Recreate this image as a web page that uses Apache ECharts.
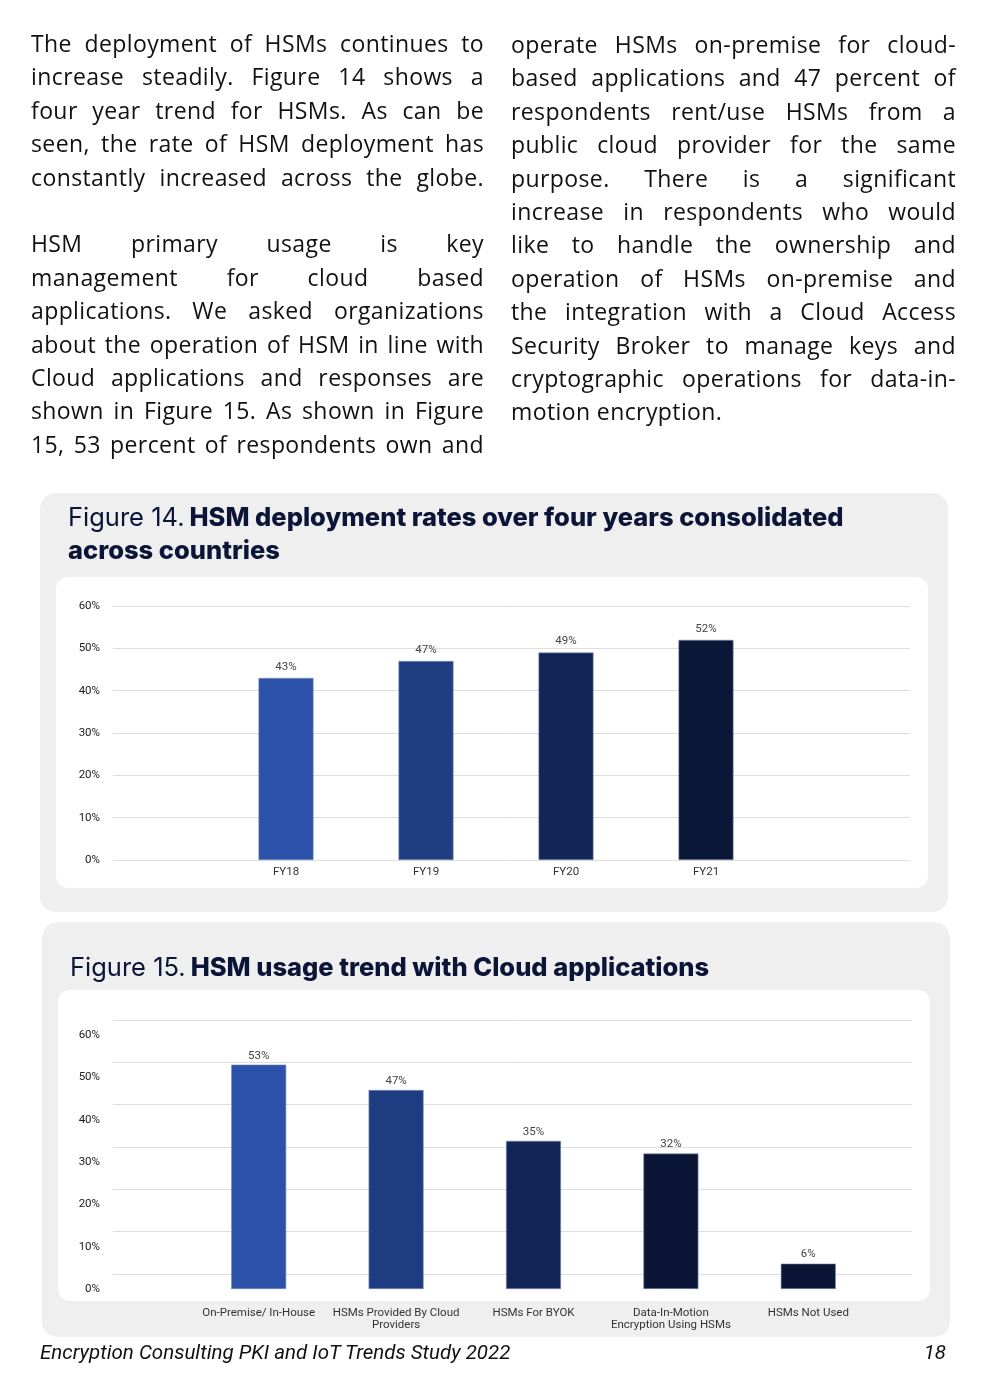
<!DOCTYPE html>
<html>
<head>
<meta charset="utf-8">
<script src="https://cdn.jsdelivr.net/npm/echarts@6/dist/echarts.min.js"></script>
<style>
  html, body { margin: 0; padding: 0; background: #ffffff; }
  #page { position: relative; width: 988px; height: 1398px; overflow: hidden; }
  #chart { position: absolute; left: 0; top: 0; width: 988px; height: 1398px; }
  .col { position: absolute; font-family: "Open Sans", sans-serif; font-size: 23px; letter-spacing: 0.4px; color: #111; }
  .ln { height: 33.4px; line-height: 33.4px; white-space: nowrap; text-align: justify; text-align-last: justify; }
  .ln.last { text-align: left; text-align-last: left; }
  .foot { position: absolute; top: 1340px; font-family: Roboto, sans-serif; font-style: italic; font-size: 20.5px; color: #111; }
</style>
</head>
<body>
<div id="page">
  <div id="chart"></div>
  <div class="col" id="col1" style="left:31px; top:27px; width:453px;"></div>
  <div class="col" id="col2" style="left:511px; top:28px; width:445px;"></div>
  <div class="foot" style="left:40px;">Encryption Consulting PKI and IoT Trends Study 2022</div>
  <div class="foot" style="right:42px;">18</div>
</div>
<script>
// ---- text content (line by line, as laid out on the page) ----
const col1Lines = [
  "The deployment of HSMs continues to",
  "increase steadily. Figure 14 shows a",
  "four year trend for HSMs. As can be",
  "seen, the rate of HSM deployment has",
  "constantly increased across the globe.",
  "",
  "HSM primary usage is key",
  "management for cloud based",
  "applications. We asked organizations",
  "about the operation of HSM in line with",
  "Cloud applications and responses are",
  "shown in Figure 15. As shown in Figure",
  "15, 53 percent of respondents own and"
];
const col2Lines = [
  "operate HSMs on-premise for cloud-",
  "based applications and 47 percent of",
  "respondents rent/use HSMs from a",
  "public cloud provider for the same",
  "purpose. There is a significant",
  "increase in respondents who would",
  "like to handle the ownership and",
  "operation of HSMs on-premise and",
  "the integration with a Cloud Access",
  "Security Broker to manage keys and",
  "cryptographic operations for data-in-",
  "motion encryption."
];

// ---- chart data ----
const fig14Title = "Figure 14.";
const fig14Bold1 = "HSM deployment rates over four years consolidated";
const fig14Bold2 = "across countries";
const fig14Categories = ["FY18", "FY19", "FY20", "FY21"];
const fig14Values = [43, 47, 49, 52];

const fig15Title = "Figure 15.";
const fig15Bold = "HSM usage trend with Cloud applications";
const fig15Categories = ["On-Premise/ In-House", "HSMs Provided By Cloud\nProviders", "HSMs For BYOK", "Data-In-Motion\nEncryption Using HSMs", "HSMs Not Used"];
const fig15Values = [53, 47, 35, 32, 6];

const yTicks = [0, 10, 20, 30, 40, 50, 60];

// ---- build paragraphs ----
function fill(id, lines) {
  const el = document.getElementById(id);
  lines.forEach((t, i) => {
    const d = document.createElement('div');
    d.className = 'ln';
    const next = lines[i + 1];
    if (t === "" || next === undefined && t.length < 25) d.className += ' last';
    d.textContent = t === "" ? "\u00a0" : t;
    el.appendChild(d);
  });
}
fill('col1', col1Lines);
fill('col2', col2Lines);

// ---- chart ----
const barColors14 = ['#2b51a8', '#1f3d82', '#132457', '#0b1737'];
const barColors15 = ['#2b51a8', '#1f3d82', '#132457', '#0b1636', '#0b1636'];
const navy = '#0c1538';
const FONT = 'Roboto, sans-serif';
const TFONT = 'Inter, Roboto, sans-serif';
const yMax = yTicks[yTicks.length - 1];
const yInt = yTicks[1] - yTicks[0];

const chart = echarts.init(document.getElementById('chart'), null, { renderer: 'canvas' });

const richTitle = {
  n: { fontFamily: TFONT, fontSize: 25.5, fontWeight: 'normal', color: navy, lineHeight: 33 },
  b: { fontFamily: TFONT, fontSize: 25.5, fontWeight: 800, color: navy, lineHeight: 33 }
};

function lineAxis(gridIndex) {
  return { type: 'value', gridIndex, min: 0, max: yMax, interval: yInt,
    axisLabel: { show: false }, axisLine: { show: false }, axisTick: { show: false },
    splitLine: { show: true, lineStyle: { color: '#dedede', width: 1 } } };
}
function labelAxis(gridIndex, offset) {
  return { type: 'value', gridIndex, min: 0, max: yMax, interval: yInt, offset,
    axisLabel: { show: true, formatter: '{value}%', fontFamily: FONT, fontSize: 11.5, color: '#1a1a1a', margin: 13 },
    axisLine: { show: false }, axisTick: { show: false }, splitLine: { show: false } };
}

const option = {
  animation: false,
  backgroundColor: 'transparent',
  graphic: [
    { type: 'rect', z: -10, shape: { x: 40, y: 493, width: 908, height: 419, r: 16 }, style: { fill: '#efefef' } },
    { type: 'rect', z: -9, shape: { x: 56, y: 577, width: 872, height: 311, r: 12 }, style: { fill: '#ffffff' } },
    { type: 'rect', z: -10, shape: { x: 42, y: 922, width: 908, height: 415, r: 16 }, style: { fill: '#efefef' } },
    { type: 'rect', z: -9, shape: { x: 58, y: 990, width: 872, height: 311, r: 12 }, style: { fill: '#ffffff' } }
  ],
  title: [
    { left: 63, top: 497, text: '{n|' + fig14Title + '} {b|' + fig14Bold1 + '}\n{b|' + fig14Bold2 + '}', textStyle: { rich: richTitle } },
    { left: 65, top: 947, text: '{n|' + fig15Title + '} {b|' + fig15Bold + '}', textStyle: { rich: richTitle } }
  ],
  grid: [
    { left: 113, right: 78, top: 606, height: 254 },   // fig14 gridlines
    { left: 216, right: 212, top: 606, height: 254 },  // fig14 bars
    { left: 113, right: 76, top: 1020, height: 254 },  // fig15 gridlines
    { left: 190, right: 111, top: 1035, height: 254 }  // fig15 bars
  ],
  xAxis: [
    { type: 'category', gridIndex: 0, data: fig14Categories, show: false },
    { type: 'category', gridIndex: 1, data: fig14Categories,
      axisLine: { show: false }, axisTick: { show: false },
      axisLabel: { fontFamily: FONT, fontSize: 11.5, color: '#333', margin: 6 } },
    { type: 'category', gridIndex: 2, data: fig15Categories, show: false },
    { type: 'category', gridIndex: 3, data: fig15Categories,
      axisLine: { show: false }, axisTick: { show: false },
      axisLabel: { fontFamily: FONT, fontSize: 11.5, color: '#333', margin: 18, lineHeight: 12, interval: 0 } }
  ],
  yAxis: [
    lineAxis(0),
    labelAxis(1, 216 - 113),
    lineAxis(2),
    labelAxis(3, 190 - 113)
  ],
  series: [
    { type: 'bar', xAxisIndex: 1, yAxisIndex: 1, barWidth: 55,
      data: fig14Values.map((v, i) => ({ value: v, itemStyle: { color: barColors14[i], borderColor: '#7e8fb6', borderWidth: 0.6 } })),
      label: { show: true, position: 'top', distance: 5, formatter: '{c}%', fontFamily: FONT, fontSize: 11.5, color: '#444' } },
    { type: 'bar', xAxisIndex: 3, yAxisIndex: 3, barWidth: 55,
      data: fig15Values.map((v, i) => ({ value: v, itemStyle: { color: barColors15[i], borderColor: '#7e8fb6', borderWidth: 0.6 } })),
      label: { show: true, position: 'top', distance: 3, formatter: '{c}%', fontFamily: FONT, fontSize: 11.5, color: '#444' } }
  ]
};
chart.setOption(option);
</script>
</body>
</html>
